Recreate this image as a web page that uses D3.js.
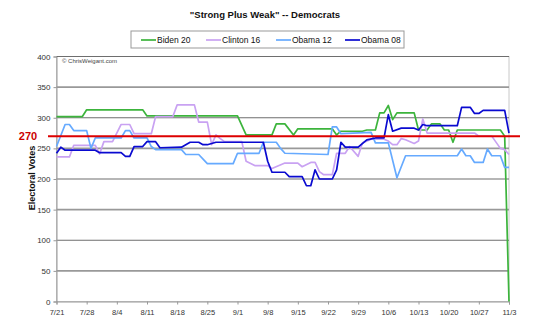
<!DOCTYPE html>
<html><head><meta charset="utf-8">
<script src="https://cdn.jsdelivr.net/npm/d3@7"></script>
<style>
body{margin:0;background:#fff;}
text{font-family:"Liberation Sans",Arial,Helvetica,sans-serif;}
</style></head>
<body><svg id="c" width="540" height="326"></svg>
<script>
const titleText = '"Strong Plus Weak" -- Democrats';
const seriesNames = ["Biden 20","Clinton 16","Obama 12","Obama 08"];
const seriesColors = ["#3cb43c","#c9a2f2","#66aaff","#0a0ad0"];
const xTickLabels = ["7/21","7/28","8/4","8/11","8/18","8/25","9/1","9/8","9/15","9/22","9/29","10/6","10/13","10/20","10/27","11/3"];
const yTicks = [0,50,100,150,200,250,300,350,400];
const threshold = 270;

// [day offset from 7/21, electoral votes]
const biden20 = [[0,302],[6,302],[7,313],[20,313],[21,303],[42,303],[44,272],[50,272],[51,290],[53,290],[55,272],[56,282],[64,282],[65,272],[66,278],[71,278],[72,280],[74,280],[75,308],[76,308],[77,320],[78,297],[79,308],[83,308],[84,280],[86,280],[87,290],[89,290],[90,280],[91,280],[92,260],[93,280],[103,280],[104,270],[105,0]];
const clinton16 = [[0,236],[3,236],[4,255],[9,255],[10,241],[11,261],[13,261],[15,289],[17,289],[18,274],[22,274],[23,302],[27,302],[28,321],[32,321],[33,293],[35,293],[36,256],[37,272],[38,266],[39,261],[43,261],[44,229],[46,222],[49,222],[50,217],[53,226],[56,226],[57,220],[59,227],[60,227],[61,212],[62,207],[64,207],[65,242],[67,242],[68,253],[70,237],[71,259],[73,265],[76,265],[77,262],[78,256],[79,256],[80,266],[81,264],[83,258],[84,262],[85,298],[86,275],[97,275],[98,270],[101,270],[103,250],[104,248],[105,240]];
const obama12 = [[0,253],[2,289],[3,289],[4,279],[7,279],[8,250],[9,267],[15,267],[16,279],[17,279],[18,267],[21,267],[22,253],[23,248],[29,248],[30,240],[33,240],[35,225],[41,225],[42,242],[47,242],[48,260],[51,260],[52,250],[53,242],[63,240],[64,285],[65,285],[66,274],[73,276],[74,259],[77,259],[79,202],[81,238],[93,238],[94,249],[95,238],[96,238],[97,227],[99,227],[100,249],[101,238],[103,238],[104,219],[105,219]];
const obama08 = [[0,242],[1,252],[2,247],[9,247],[10,243],[15,243],[16,237],[17,237],[18,253],[20,253],[21,261],[23,261],[24,251],[29,252],[31,260],[33,260],[34,256],[35,256],[37,260],[48,260],[49,229],[50,211],[53,211],[54,204],[57,204],[58,189],[59,189],[60,215],[61,200],[64,200],[65,215],[66,260],[67,252],[70,252],[72,264],[74,267],[76,267],[77,305],[78,278],[80,283],[83,283],[84,280],[85,289],[86,287],[93,287],[94,317],[96,317],[97,307],[98,307],[99,312],[104,312],[105,275]];
const seriesData = [biden20, clinton16, obama12, obama08];

const svg = d3.select("#c");
const L = 56.5, R = 509, T = 56.5, B = 301.5;
const x = d3.scaleLinear().domain([0,105]).range([L,R]);
const y = d3.scaleLinear().domain([0,400]).range([B,T]);

// frame
svg.append("rect").attr("x",L).attr("y",T).attr("width",R-L).attr("height",B-T)
  .attr("fill","none").attr("stroke","#c8c8c8").attr("stroke-width",1);

// gridlines
svg.append("g").selectAll("line").data(yTicks.filter(v=>v>0)).join("line")
  .attr("x1",L).attr("x2",R).attr("y1",d=>y(d)).attr("y2",d=>y(d))
  .attr("stroke",d=>d%100===0?"#6e6e6e":"#999")
  .attr("stroke-width",d=>d%100===0?1.2:1.6);

// y axis
const ya = svg.append("g").attr("transform",`translate(${L},0)`)
  .call(d3.axisLeft(y).tickValues(yTicks).tickSize(3).tickPadding(3));
ya.select(".domain").attr("stroke","#999");
ya.selectAll(".tick line").attr("stroke","#999");
ya.selectAll("text").attr("font-size",8).attr("fill","#333").attr("font-family","Liberation Sans, Arial, sans-serif");

// x axis
const xa = svg.append("g").attr("transform",`translate(0,${B})`)
  .call(d3.axisBottom(x).tickValues(d3.range(0,106,7)).tickFormat((d,i)=>xTickLabels[i]).tickSize(3).tickPadding(5));
xa.select(".domain").attr("stroke","#999");
xa.selectAll(".tick line").attr("stroke","#999");
xa.selectAll("text").attr("font-size",7.5).attr("fill","#333").attr("font-family","Liberation Sans, Arial, sans-serif");

// copyright
svg.append("text").attr("x",62).attr("y",63).attr("font-size",6).attr("fill","#444").text("© ChrisWeigant.com");

// series lines
const line = d3.line().x(d=>x(d[0])).y(d=>y(d[1]));
seriesData.forEach((s,i)=>{
  svg.append("path").datum(s).attr("d",line).attr("fill","none")
    .attr("stroke",seriesColors[i]).attr("stroke-width",1.7).attr("stroke-linejoin","round");
});

// 270 line
svg.append("line").attr("x1",48).attr("x2",520).attr("y1",y(threshold)).attr("y2",y(threshold))
  .attr("stroke","#dd0000").attr("stroke-width",2);
svg.append("text").attr("x",28).attr("y",y(threshold)+4).attr("text-anchor","middle")
  .attr("font-size",11).attr("font-weight","bold").attr("fill","#cc0000").text(threshold);

// y label
svg.append("text").attr("transform",`translate(35,178) rotate(-90)`).attr("text-anchor","middle")
  .attr("font-size",9).attr("font-weight","bold").attr("fill","#111").text("Electoral Votes");

// title
svg.append("text").attr("x",265).attr("y",18).attr("text-anchor","middle")
  .attr("font-size",9.5).attr("font-weight","bold").attr("fill","#111").text(titleText);

// legend
svg.append("rect").attr("x",131).attr("y",31).attr("width",273).attr("height",17)
  .attr("fill","#fff").attr("stroke","#999").attr("stroke-width",1);
const legX = [141,206,276,345];
seriesNames.forEach((n,i)=>{
  svg.append("line").attr("x1",legX[i]).attr("x2",legX[i]+15).attr("y1",40).attr("y2",40)
    .attr("stroke",seriesColors[i]).attr("stroke-width",1.7);
  svg.append("text").attr("x",legX[i]+16).attr("y",43).attr("font-size",8.5).attr("fill","#111").text(n);
});
</script></body></html>
